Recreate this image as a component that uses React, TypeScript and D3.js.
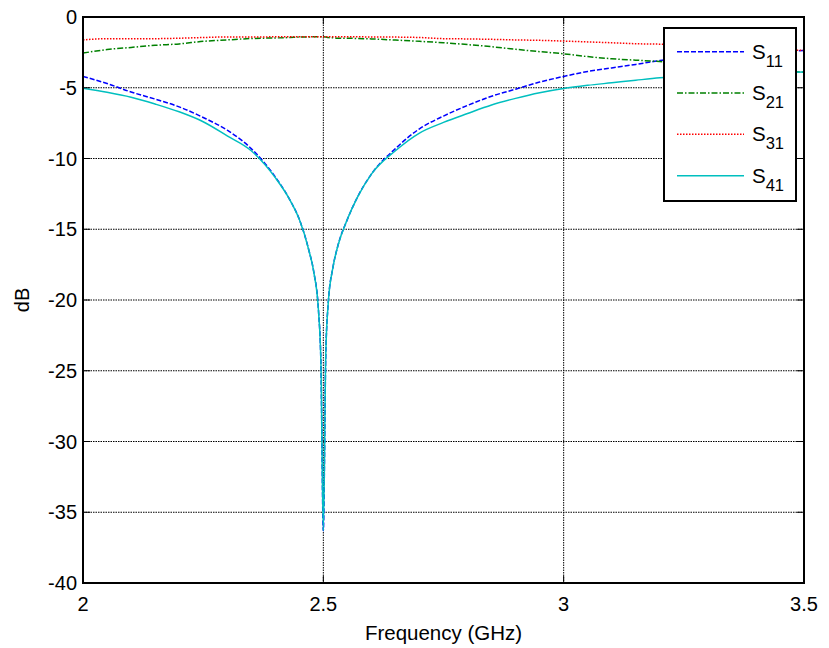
import React from "react";
import * as d3 from "d3";

// Frequency grid (GHz) used for all series
const freq = [
  2.0, 2.05, 2.1, 2.15, 2.2, 2.25, 2.3, 2.35, 2.4, 2.43, 2.45, 2.47, 2.48, 2.49, 2.495, 2.5,
  2.505, 2.51, 2.52, 2.53, 2.55, 2.57, 2.6, 2.65, 2.7, 2.75, 2.8, 2.85, 2.9, 2.95, 3.0,
  3.05, 3.1, 3.15, 3.2, 3.25, 3.3, 3.35, 3.4, 3.45, 3.5,
];

const s11 = [
  -4.2, -4.7, -5.3, -5.8, -6.35, -7.1, -8.0, -9.3, -11.3, -12.9, -14.3, -16.5, -18.0, -20.8, -24.5, -36.3,
  -24.0, -20.3, -17.7, -16.2, -14.3, -12.8, -11.1, -9.3, -7.9, -7.0, -6.25, -5.6, -5.1, -4.6, -4.2,
  -3.85, -3.6, -3.35, -3.08, -2.92, -2.78, -2.65, -2.54, -2.45, -2.37,
];

const s21 = [
  -2.55, -2.3, -2.15, -2.0, -1.9, -1.72, -1.62, -1.52, -1.48, -1.45, -1.42, -1.41, -1.4, -1.4, -1.4, -1.4,
  -1.42, -1.45, -1.47, -1.5, -1.5, -1.52, -1.55, -1.63, -1.72, -1.82, -1.95, -2.1, -2.28, -2.45, -2.6,
  -2.8, -2.95, -3.05, -3.15, -3.3, -3.45, -3.6, -3.72, -3.82, -3.9,
];

const s31 = [
  -1.62, -1.53, -1.53, -1.53, -1.5, -1.45, -1.41, -1.41, -1.4, -1.39, -1.39, -1.39, -1.39, -1.39, -1.4, -1.4,
  -1.4, -1.4, -1.4, -1.4, -1.4, -1.4, -1.41, -1.42, -1.45, -1.53, -1.55, -1.58, -1.62, -1.65, -1.7,
  -1.76, -1.82, -1.89, -1.92, -2.0, -2.08, -2.15, -2.22, -2.3, -2.36,
];

const s41 = [
  -5.04, -5.32, -5.67, -6.15, -6.7, -7.4, -8.4, -9.45, -11.35, -12.9, -14.3, -16.5, -18.0, -20.8, -24.5, -36.3,
  -24.0, -20.3, -17.7, -16.2, -14.3, -12.8, -11.1, -9.45, -8.2, -7.45, -6.82, -6.22, -5.75, -5.35, -5.05,
  -4.83, -4.65, -4.47, -4.3, -4.18, -4.09, -4.02, -3.96, -3.92, -3.89,
];

const xTicks = [2, 2.5, 3, 3.5];
const yTicks = [0, -5, -10, -15, -20, -25, -30, -35, -40];

const seriesNames = ["11", "21", "31", "41"];
const seriesValues = [s11, s21, s31, s41];
const seriesColors = ["#0000ff", "#008000", "#ff0000", "#00bfbf"];
const seriesDash = ["5,2", "6,2,1.5,2", "1.5,1.5", null];

const W = 829;
const H = 648;
const L = 83, R = 804, T = 17, B = 583;

export default function App() {
  const x = d3.scaleLinear().domain([2, 3.5]).range([L, R]);
  const y = d3.scaleLinear().domain([-40, 0]).range([B, T]);
  const font = "Arial, 'Liberation Sans', sans-serif";

  const lineGen = (vals: number[]) =>
    d3
      .line<number>()
      .x((_, i) => x(freq[i]))
      .y((d) => y(d))
      .curve(d3.curveMonotoneX)(vals) || "";

  const legX0 = 664, legY0 = 28, legX1 = 796, legY1 = 201;
  const rowY = [51.7, 93, 134.3, 175.7];

  return (
    <svg
      width={W}
      height={H}
      style={{ position: "absolute", left: 0, top: 0, background: "#fff" }}
      fontFamily={font}
    >
      <rect x={0} y={0} width={W} height={H} fill="#fff" />
      {/* grid */}
      {xTicks.slice(1, -1).map((t) => (
        <line key={"gx" + t} x1={x(t)} x2={x(t)} y1={T} y2={B} stroke="#000" strokeWidth={1} strokeDasharray="1.5,1" />
      ))}
      {yTicks.slice(1, -1).map((t) => (
        <line key={"gy" + t} x1={L} x2={R} y1={y(t)} y2={y(t)} stroke="#000" strokeWidth={1} strokeDasharray="1.5,1" />
      ))}
      {/* series */}
      <g clipPath="url(#clip)">
        {seriesValues.map((vals, i) => (
          <path
            key={"s" + i}
            d={lineGen(vals)}
            fill="none"
            stroke={seriesColors[i]}
            strokeWidth={1.5}
            strokeDasharray={seriesDash[i] || undefined}
          />
        ))}
      </g>
      <defs>
        <clipPath id="clip">
          <rect x={L} y={T} width={R - L} height={B - T} />
        </clipPath>
      </defs>
      {/* ticks */}
      {xTicks.map((t) => (
        <g key={"tx" + t}>
          <line x1={x(t)} x2={x(t)} y1={B} y2={B - 7} stroke="#000" strokeWidth={1} />
          <line x1={x(t)} x2={x(t)} y1={T} y2={T + 7} stroke="#000" strokeWidth={1} />
          <text x={x(t)} y={611} fontSize={20} textAnchor="middle" fill="#000">
            {t}
          </text>
        </g>
      ))}
      {yTicks.map((t) => (
        <g key={"ty" + t}>
          <line x1={L} x2={L + 7} y1={y(t)} y2={y(t)} stroke="#000" strokeWidth={1} />
          <line x1={R} x2={R - 7} y1={y(t)} y2={y(t)} stroke="#000" strokeWidth={1} />
          <text x={77} y={y(t) + 7} fontSize={20} textAnchor="end" fill="#000">
            {t}
          </text>
        </g>
      ))}
      {/* axes box */}
      <rect x={L} y={T} width={R - L} height={B - T} fill="none" stroke="#000" strokeWidth={2} />
      {/* labels */}
      <text x={(L + R) / 2} y={640} fontSize={20.5} textAnchor="middle" fill="#000">
        Frequency (GHz)
      </text>
      <text
        transform={`translate(29, ${(T + B) / 2}) rotate(-90)`}
        fontSize={20}
        textAnchor="middle"
        fill="#000"
      >
        dB
      </text>
      {/* legend */}
      <rect x={legX0} y={legY0} width={legX1 - legX0} height={legY1 - legY0} fill="#fff" stroke="#000" strokeWidth={2} />
      {seriesNames.map((n, i) => (
        <g key={"leg" + i}>
          <line
            x1={677}
            x2={744}
            y1={rowY[i]}
            y2={rowY[i]}
            stroke={seriesColors[i]}
            strokeWidth={1.5}
            strokeDasharray={seriesDash[i] || undefined}
          />
          <text x={752} y={rowY[i] + 6.8} fontSize={20.5} fill="#000">
            S
            <tspan fontSize={16.5} dy={8.3}>
              {n}
            </tspan>
          </text>
        </g>
      ))}
    </svg>
  );
}
